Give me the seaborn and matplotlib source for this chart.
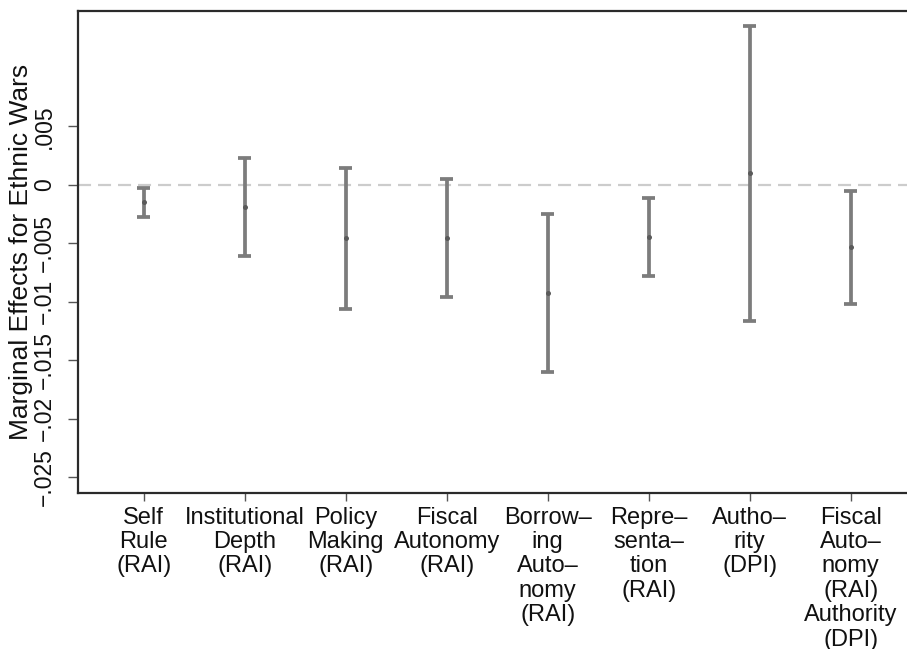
import matplotlib
matplotlib.use("Agg")
import matplotlib.pyplot as plt
import numpy as np
import pandas as pd
import seaborn as sns

# Decentralisation measures (tick labels, hyphenated as printed)
measures = [
    "Self\nRule\n(RAI)",
    "Institutional\nDepth\n(RAI)",
    "Policy\nMaking\n(RAI)",
    "Fiscal\nAutonomy\n(RAI)",
    "Borrow\u2013\ning\nAuto\u2013\nnomy\n(RAI)",
    "Repre\u2013\nsenta\u2013\ntion\n(RAI)",
    "Autho\u2013\nrity\n(DPI)",
    "Fiscal\nAuto\u2013\nnomy\n(RAI)\nAuthority\n(DPI)",
]

# Marginal effects with lower / upper confidence bounds
estimate = [-0.00150, -0.00190, -0.00458, -0.00458, -0.00923, -0.00447, 0.00097, -0.00535]
lower = [-0.00276, -0.00610, -0.01060, -0.00962, -0.01600, -0.00783, -0.01162, -0.01020]
upper = [-0.00026, 0.00231, 0.00140, 0.00046, -0.00248, -0.00111, 0.01354, -0.00054]

y_ticks = [-0.025, -0.02, -0.015, -0.01, -0.005, 0, 0.005]
y_tick_labels = ["\u2212.025", "\u2212.02", "\u2212.015", "\u2212.01", "\u2212.005", "0", ".005"]

# Long table: each measure has its bounds and point estimate;
# the median gives the estimate, min/max give the interval.
rows = []
for m, lo, est, hi in zip(measures, lower, estimate, upper):
    for v in (lo, est, hi):
        rows.append({"measure": m, "effect": v})
df = pd.DataFrame(rows)

sns.set_theme(style="white")
plt.rcParams["font.family"] = ["Liberation Sans", "DejaVu Sans"]
plt.rcParams["lines.scale_dashes"] = False

fig = plt.figure(figsize=(9.07, 6.49), dpi=100)
ax = fig.add_axes([0.086, 0.2408, 0.914, 0.7418])

ax.axhline(0, color="#cccccc", lw=1.6, dashes=(9.4, 5.0), zorder=0)

sns.pointplot(
    data=df, x="measure", y="effect", order=measures,
    estimator="median", errorbar=lambda v: (v.min(), v.max()),
    capsize=0.13, linestyle="none", color="#5a5a5a",
    markers="o", markersize=3.6, markeredgewidth=0,
    err_kws={"color": "#7c7c7c", "linewidth": 2.7, "solid_capstyle": "butt"},
    ax=ax,
)

# keep the point estimates on top of the interval lines
for line in ax.lines:
    if line.get_marker() == "o":
        line.set_zorder(5)

ax.set_xlim(-0.65, 7.557)
ax.set_ylim(-0.02632, 0.01482)
ax.set_yticks(y_ticks)
ax.set_yticklabels(y_tick_labels, rotation=90, va="center")
ax.set_xlabel("")
ax.set_ylabel("Marginal Effects for Ethnic Wars", fontsize=19, color="#111111")
ax.yaxis.set_label_coords(-0.0545, 0.5)

for lab in ax.get_xticklabels():
    lab.set_linespacing(1.14)

ax.tick_params(axis="y", which="major", left=True, length=7, width=1.0,
               color="#555555", pad=9, labelsize=16.5, labelcolor="#111111")
ax.tick_params(axis="x", which="major", bottom=True, length=6, width=1.0,
               color="#555555", pad=4, labelsize=17, labelcolor="#111111")

for side in ("left", "bottom", "top"):
    ax.spines[side].set_visible(True)
    ax.spines[side].set_color("#2a2a2a")
    ax.spines[side].set_linewidth(1.6)
ax.spines["right"].set_visible(False)

fig.savefig("out.png", dpi=100, facecolor="white")
